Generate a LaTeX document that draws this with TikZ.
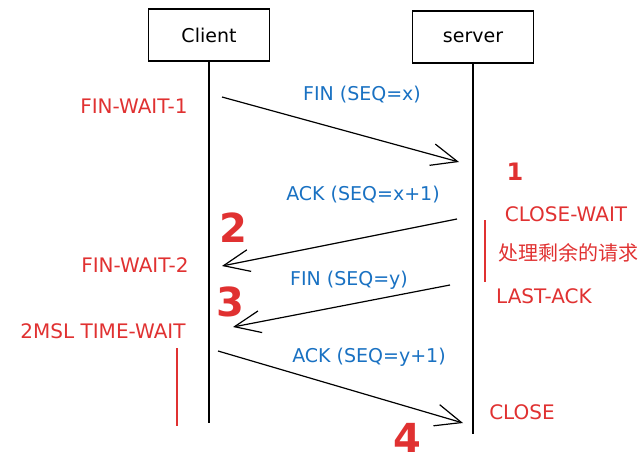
\documentclass[tikz,border=0pt]{standalone}
\usepackage{fontspec}
\setmainfont{DejaVu Sans}
\newfontfamily\cjk{Noto Sans CJK SC}
\usetikzlibrary{arrows.meta}
\definecolor{statered}{HTML}{E03131}
\definecolor{msgblue}{HTML}{1971C2}
\tikzset{
    party/.style={draw, line width=1.2pt, minimum width=121pt, minimum height=52pt, font=\fontsize{19}{22}\selectfont},
    lifeline/.style={line width=1.2pt},
    msg/.style={line width=1.2pt, -{Straight Barb[length=26pt,width=22pt]}},
    msglabel/.style={text=msgblue, font=\fontsize{19}{22}\selectfont},
    statelabel/.style={text=statered, font=\fontsize{20}{24}\selectfont},
    stepnum/.style={text=statered, font=\fontsize{40}{44}\selectfont\bfseries},
    stayline/.style={color=statered, line width=1.5pt},
}
\begin{document}
\begin{tikzpicture}[x=1pt,y=-1pt]
    \useasboundingbox (0,0) rectangle (643,461);

    \node[party] (client) at (209,35){Client};
    \node[party] (server) at (473,37){server};
    \coordinate (clientend) at (209,423);
    \coordinate (serverend) at (473,434);
    \draw[lifeline] (client) -- (clientend);
    \draw[lifeline] (server) -- (serverend);

    % messages
    \foreach \m/\sx/\sy/\ex/\ey in {finx/222/97/459/162, ackx/457/219/222/266, finy/450/285/233/327, acky/218/351/463/423}
        {
            \coordinate (\m-from) at (\sx,\sy);
            \coordinate (\m-to) at (\ex,\ey);
            \draw[msg] (\m-from) -- (\m-to);
        }

    \foreach \m/\x/\y/\t in {finxlabel/362/95/{FIN (SEQ=x)}, ackxlabel/363/195/{ACK (SEQ=x+1)}, finylabel/349/280/{FIN (SEQ=y)}, ackylabel/369/357/{ACK (SEQ=y+1)}}
        {
            \node[msglabel] (\m) at (\x,\y){\t};
        }

    % states
    \foreach \s/\x/\y/\t in {finwait1/134/106/FIN-WAIT-1, finwait2/135/265/FIN-WAIT-2, timewait/103/331/2MSL TIME-WAIT, closewait/566/214/CLOSE-WAIT, lastack/544/296/LAST-ACK, closed/522/412/CLOSE}
        {
            \node[statelabel] (\s) at (\x,\y){\t};
        }
    \node[statelabel] (remaining) at (568,253){\cjk 处理剩余的请求};

    \node[stepnum, font=\fontsize{24}{28}\selectfont\bfseries] (one) at (515,172){1};
    \node[stepnum] (two) at (233,228){2};
    \node[stepnum] (three) at (230,302){3};
    \node[stepnum] (four) at (407,438){4};

    \coordinate (waitfrom) at (485,220);
    \coordinate (waitto) at (485,282);
    \draw[stayline] (waitfrom) -- (waitto);
    \coordinate (msl-from) at (177,348);
    \coordinate (msl-to) at (177,426);
    \draw[stayline] (msl-from) -- (msl-to);
\end{tikzpicture}
\end{document}
